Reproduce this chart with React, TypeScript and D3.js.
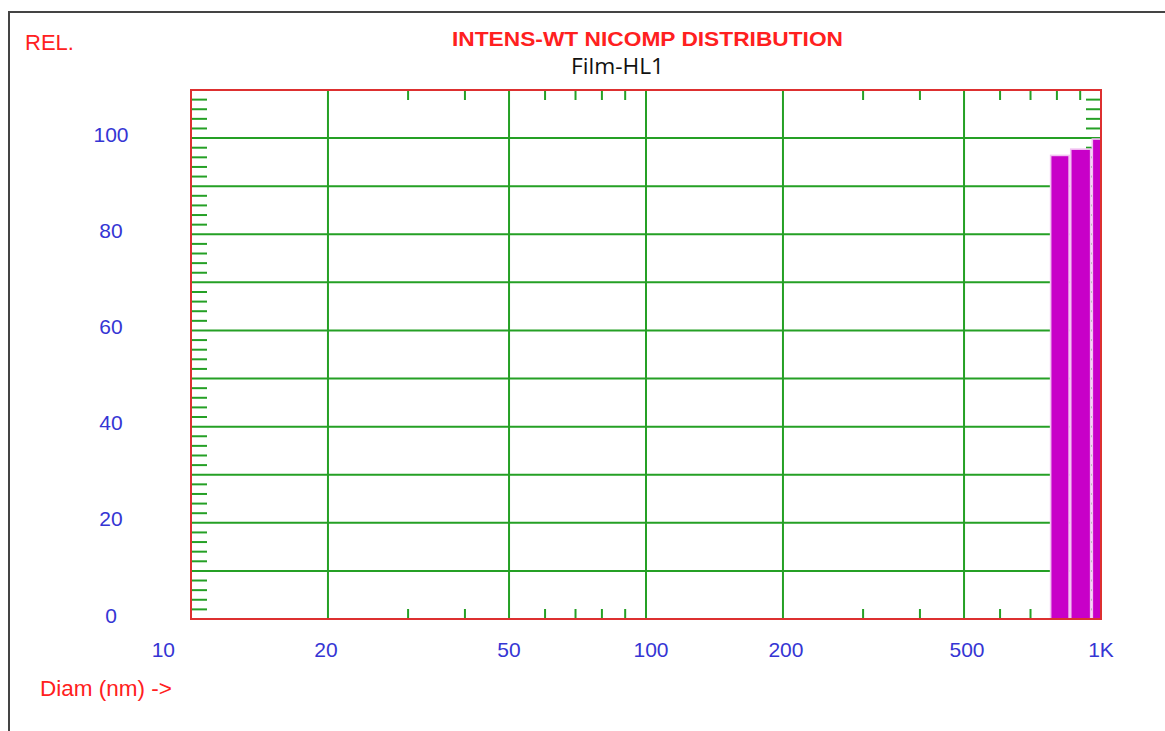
import React from "react";
import * as d3 from "d3";

const titleText = "INTENS-WT NICOMP DISTRIBUTION";
const subtitleText = "Film-HL1";
const yAxisTitle = "REL.";
const xAxisTitle = "Diam (nm) ->";

const xMajorTicks = [10, 20, 50, 100, 200, 500, 1000];
const xMajorLabels = ["10", "20", "50", "100", "200", "500", "1K"];
const xMinorTicks = [30, 40, 60, 70, 80, 90, 300, 400, 600, 700, 800, 900];
const yLabelTicks = [0, 20, 40, 60, 80, 100];
const yGridTicks = [10, 20, 30, 40, 50, 60, 70, 80, 90, 100];

// histogram bins (diameter nm) and relative intensity
const binLow = [775, 858, 957];
const binHigh = [851, 949, 1060];
const binValue = [96.4, 97.7, 99.8];

const W = 1165;
const H = 731;
const L = 191, R = 1101, T = 90, B = 619;

const RED = "#dd3030";
const GREEN = "#25a025";
const BLUE = "#3535d4";
const TXT_RED = "#ff2020";

export default function App() {
  const x = d3.scaleLog().domain([10, 1000]).range([L, R]);
  const y = d3.scaleLinear().domain([0, 110]).range([B, T]);
  const yMinor = d3.range(0, 110, 2).filter((v) => v % 10 !== 0);
  const bins = binLow.map((lo, i) => ({ lo, hi: binHigh[i], v: binValue[i] }));
  const SW = 2;

  return (
    <svg
      width={W}
      height={H}
      style={{ position: "absolute", left: 0, top: 0, background: "#fff" }}
      fontFamily="'Liberation Sans', Arial, sans-serif"
    >
      <defs>
        <clipPath id="plotClip">
          <rect x={L} y={T} width={R - L} height={B - T} />
        </clipPath>
      </defs>
      {/* outer frame */}
      <path d={`M9,${H + 5} L9,12 L${W + 5},12`} fill="none" stroke="#444" strokeWidth={2} />

      {/* horizontal gridlines */}
      {yGridTicks.map((v) => (
        <line key={"hg" + v} x1={L} x2={R} y1={y(v)} y2={y(v)} stroke={GREEN} strokeWidth={SW} />
      ))}
      {/* vertical gridlines */}
      {xMajorTicks.slice(1, -1).map((v) => (
        <line key={"vg" + v} x1={x(v)} x2={x(v)} y1={T} y2={B} stroke={GREEN} strokeWidth={SW} />
      ))}
      {/* y minor ticks both sides */}
      {yMinor.map((v) => (
        <g key={"ym" + v}>
          <line x1={L} x2={L + 16} y1={y(v)} y2={y(v)} stroke={GREEN} strokeWidth={SW} />
          <line x1={R - 15} x2={R} y1={y(v)} y2={y(v)} stroke={GREEN} strokeWidth={SW} />
        </g>
      ))}
      {/* x minor ticks top & bottom */}
      {xMinorTicks.map((v) => (
        <g key={"xm" + v}>
          <line x1={x(v)} x2={x(v)} y1={B} y2={B - 10} stroke={GREEN} strokeWidth={SW} />
          <line x1={x(v)} x2={x(v)} y1={T} y2={T + 10} stroke={GREEN} strokeWidth={SW} />
        </g>
      ))}

      {/* bars */}
      <g clipPath="url(#plotClip)">
        {bins.map((b, i) => (
          <rect
            key={"bar" + i}
            x={x(b.lo)}
            y={y(b.v)}
            width={x(b.hi) - x(b.lo)}
            height={B - y(b.v) + 2}
            fill="#c800c8"
            stroke="#f2c2f2"
            strokeWidth={1.6}
          />
        ))}
      </g>

      {/* plot frame */}
      <rect x={L} y={T} width={R - L} height={B - T} fill="none" stroke={RED} strokeWidth={2} />

      {/* y labels */}
      {yLabelTicks.map((v) => (
        <text
          key={"yl" + v}
          x={111}
          y={y(v) - 2}
          textAnchor="middle"
          dominantBaseline="middle"
          fontSize={21}
          fill={BLUE}
        >
          {v}
        </text>
      ))}
      {/* x labels */}
      {xMajorTicks.map((v, i) => (
        <text
          key={"xl" + v}
          x={i === 0 ? 175 : x(v) - (i === 1 ? 2 : i === 5 ? -3 : i === 3 ? -5 : i === 4 ? -3 : 0)}
          y={651}
          textAnchor={i === 0 ? "end" : "middle"}
          dominantBaseline="middle"
          fontSize={21}
          fill={BLUE}
        >
          {xMajorLabels[i]}
        </text>
      ))}

      {/* titles */}
      <text x={25} y={44} dominantBaseline="middle" fontSize={22} fill={TXT_RED}>
        {yAxisTitle}
      </text>
      <text
        x={647.5}
        y={40}
        textAnchor="middle"
        dominantBaseline="middle"
        fontSize={21}
        fontWeight="bold"
        fill={TXT_RED}
        textLength={391}
        lengthAdjust="spacingAndGlyphs"
      >
        {titleText}
      </text>
      <text
        x={617.5}
        y={68}
        textAnchor="middle"
        dominantBaseline="middle"
        fontSize={21}
        fill="#111"
        fontFamily="'Open Sans', 'Noto Sans', sans-serif"
        textLength={93}
        lengthAdjust="spacingAndGlyphs"
      >
        {subtitleText}
      </text>
      <text x={40} y={690} dominantBaseline="middle" fontSize={22.5} fill={TXT_RED}>
        {xAxisTitle}
      </text>
    </svg>
  );
}
